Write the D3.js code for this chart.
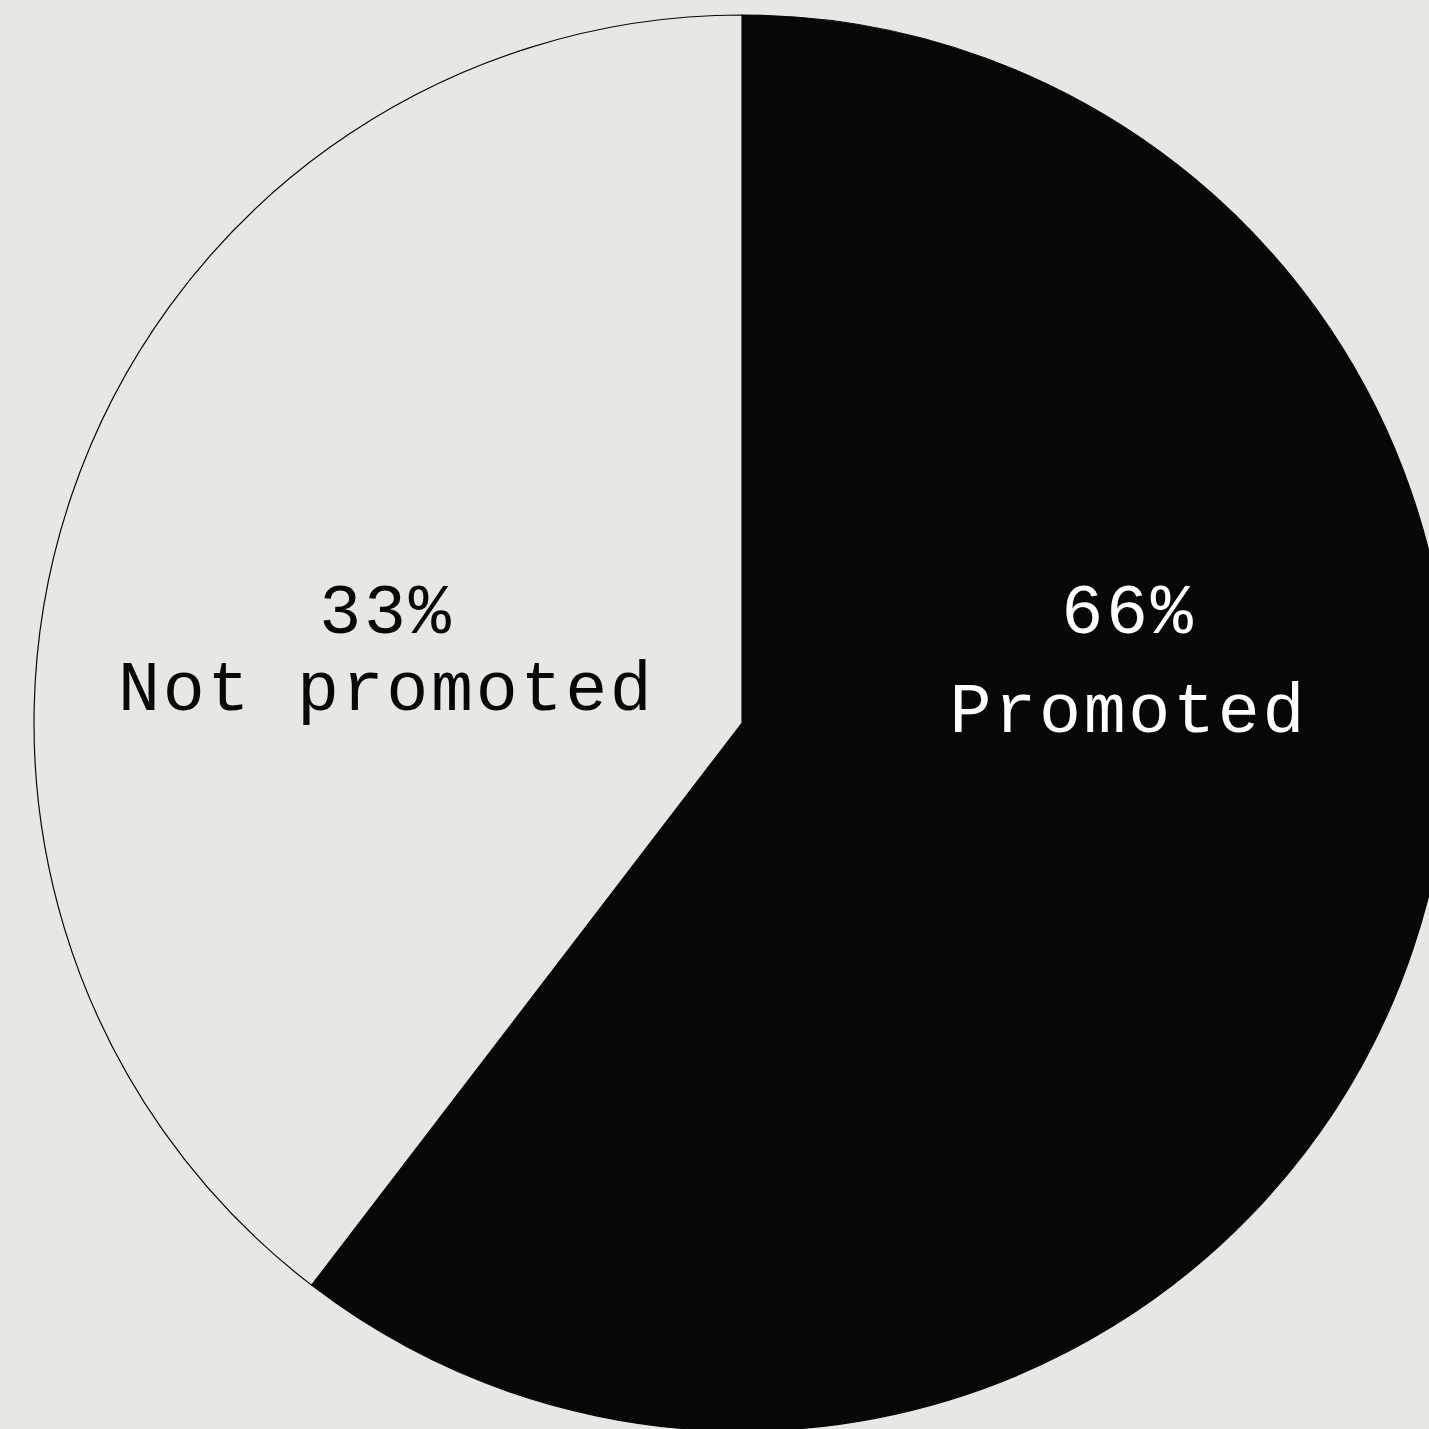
<!DOCTYPE html>
<html>
<head>
<meta charset="utf-8">
<script src="https://cdn.jsdelivr.net/npm/d3@7"></script>
<style>
  html, body { margin: 0; padding: 0; background: #e7e8e3; }
  svg { display: block; }
</style>
</head>
<body>
<svg id="chart" width="1429" height="1429"></svg>
<script>
// Data
const categories = ["Promoted", "Not promoted"];
const values = [60.4, 39.6];           // slice sizes as drawn
const percentLabels = ["66%", "33%"];  // label text as printed
const fills = ["#070707", "#e7e8e3"];
const textColors = ["#ffffff", "#070707"];

const W = 1429, H = 1429;
const cx = 742, cy = 723, R = 708;

const svg = d3.select("#chart");
svg.append("rect").attr("width", W).attr("height", H).attr("fill", "#e7e8e3");

const data = categories.map((c, i) => ({ name: c, value: values[i], pct: percentLabels[i], i }));

const pie = d3.pie().sort(null).value(d => d.value);
const arc = d3.arc().innerRadius(0).outerRadius(R);

const g = svg.append("g").attr("transform", `translate(${cx},${cy})`);

g.selectAll("path")
  .data(pie(data))
  .join("path")
  .attr("d", arc)
  .attr("fill", d => fills[d.data.i])
  .attr("stroke", "#070707")
  .attr("stroke-width", 1.2);

// Label positions (layout)
const labelPos = [
  { x: 1127, y1: 633, y2: 732 },
  { x: 385,  y1: 633, y2: 710 }
];

const font = "'Liberation Mono', 'DejaVu Sans Mono', monospace";
const fs = 70, ls = 2.7;

data.forEach((d, i) => {
  const p = labelPos[i];
  svg.append("text")
    .attr("x", p.x + ls / 2).attr("y", p.y1)
    .attr("text-anchor", "middle")
    .attr("font-family", font)
    .attr("font-size", fs)
    .attr("letter-spacing", ls)
    .attr("fill", textColors[i])
    .text(d.pct);
  svg.append("text")
    .attr("x", p.x + ls / 2).attr("y", p.y2)
    .attr("text-anchor", "middle")
    .attr("font-family", font)
    .attr("font-size", fs)
    .attr("letter-spacing", ls)
    .attr("fill", textColors[i])
    .text(d.name);
});
</script>
</body>
</html>
